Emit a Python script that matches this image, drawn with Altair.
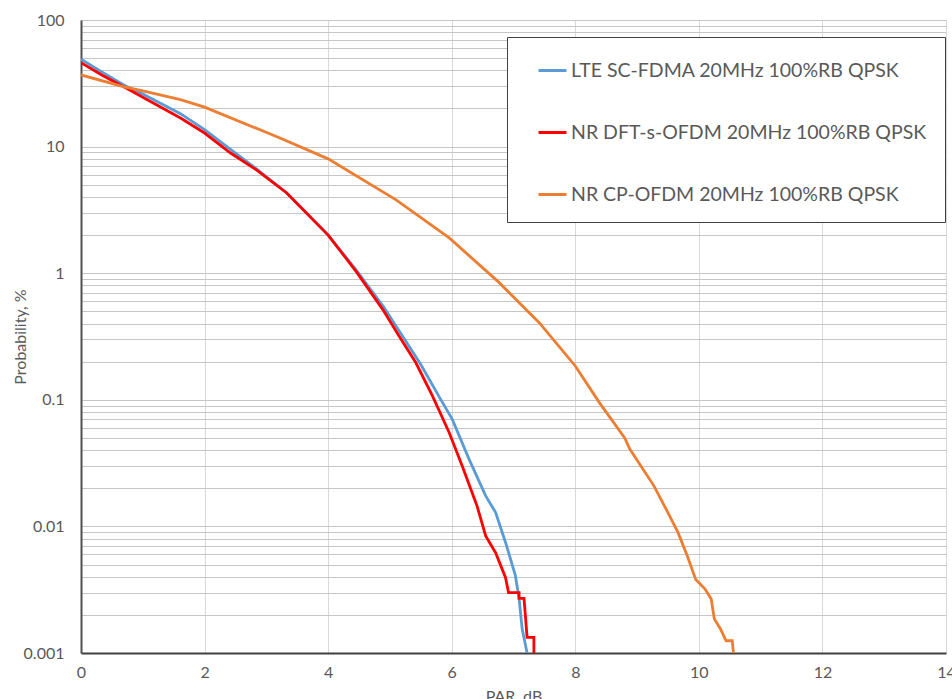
import altair as alt
import pandas as pd

series_names = [
    "LTE SC-FDMA 20MHz 100%RB QPSK",
    "NR DFT-s-OFDM 20MHz 100%RB QPSK",
    "NR CP-OFDM 20MHz 100%RB QPSK",
]
series_colors = ["#5B9BD5", "#FF0000", "#ED7D31"]

lte_x = [0, 0.35, 0.7, 1, 1.61, 2, 2.42, 2.85, 3.33, 4, 4.455, 4.9, 5.2, 5.5, 5.8, 6.01,
         6.28, 6.55, 6.71, 6.87, 7.03, 7.09, 7.14, 7.22]
lte_p = [49, 38.5, 30.5, 26, 18.2, 13.6, 9.5, 6.6, 4.3, 2.0, 1.06, 0.54, 0.32, 0.19, 0.105,
         0.07, 0.034, 0.0174, 0.0129, 0.0075, 0.0041, 0.0027, 0.00155, 0.001]

dft_x = [0, 0.35, 0.7, 1, 1.61, 2, 2.42, 2.85, 3.33, 4, 4.455, 4.885, 5.15, 5.42, 5.69,
         5.96, 6.17, 6.41, 6.55, 6.71, 6.87, 6.92, 7.09, 7.09, 7.17, 7.22, 7.33, 7.33]
dft_p = [46, 36.5, 29.6, 24.5, 16.8, 12.8, 8.9, 6.5, 4.3, 2.0, 1.03, 0.516, 0.318, 0.196,
         0.107, 0.055, 0.030, 0.0145, 0.0084, 0.0062, 0.00395, 0.003, 0.003, 0.0027,
         0.0027, 0.00133, 0.00133, 0.001]

cp_x = [0, 0.7, 1, 1.61, 2, 3.22, 4.0, 5.1, 5.96, 6.76, 7.42, 8.0, 8.39, 8.8, 8.88, 9.27,
        9.47, 9.66, 9.81, 9.95, 10.1, 10.2, 10.25, 10.35, 10.44, 10.54, 10.56]
cp_p = [36.8, 29.6, 27.5, 23.5, 20.5, 11.7, 8.0, 3.8, 1.9, 0.85, 0.405, 0.185, 0.095, 0.05,
        0.041, 0.021, 0.0137, 0.009, 0.0059, 0.0038, 0.0032, 0.00267, 0.00186, 0.00155,
        0.00125, 0.00125, 0.001]

x_ticks = [0, 2, 4, 6, 8, 10, 12, 14]
y_major = [0.001, 0.01, 0.1, 1, 10, 100]
y_grid = sorted(set([round(m * 10 ** k, 6) for k in range(-3, 2) for m in range(1, 10)] + [100]))

rows = []
for name, xs, ps in zip(series_names, [lte_x, dft_x, cp_x], [lte_p, dft_p, cp_p]):
    for i, (x, p) in enumerate(zip(xs, ps)):
        rows.append({"series": name, "par": x, "prob": p, "idx": i})
df = pd.DataFrame(rows)

FONT = "Lato"
TXT = "#595959"

x_enc = alt.X(
    "par:Q",
    scale=alt.Scale(domain=[0, 14], nice=False),
    axis=alt.Axis(
        values=x_ticks, title="PAR, dB", grid=True, gridColor="#d9d9d9", gridWidth=1,
        ticks=False, domainColor="#404040", domainWidth=2, labelFont=FONT, labelFontSize=16,
        labelColor=TXT, labelPadding=11, titleFont=FONT, titleFontSize=16, titleColor=TXT,
        titleFontWeight="normal", titleBaseline="top", titleY=35, labelFlush=False,
    ),
)
y_enc = alt.Y(
    "prob:Q",
    scale=alt.Scale(type="log", domain=[0.001, 100], nice=False),
    axis=alt.Axis(
        values=y_grid, title="Probability, %", grid=True, gridColor="#c6c6c6", gridWidth=1,
        ticks=False, domainColor="#505050", domainWidth=2, labelFont=FONT, labelFontSize=16,
        labelColor=TXT, labelPadding=17, labelFlush=False, labelOverlap=False,
        labelExpr="indexof([0.001,0.01,0.1,1,10,100], datum.value) >= 0 ? format(datum.value, '~g') : ''",
        titleFont=FONT, titleFontSize=16, titleColor=TXT, titleFontWeight="normal",
        titleX=-61, titleBaseline="middle", titleAlign="center",
    ),
)
color_enc = alt.Color(
    "series:N",
    scale=alt.Scale(domain=series_names, range=series_colors),
    legend=alt.Legend(
        orient="none", legendX=426, legendY=17, title=None, symbolType="stroke",
        symbolSize=784, symbolStrokeWidth=3, labelFontSize=19.5, labelFont=FONT,
        labelColor=TXT, rowPadding=37, padding=18, symbolOffset=12, labelOffset=3,
        strokeColor="#404040", fillColor="white", labelLimit=600,
    ),
)

base = alt.Chart(df).mark_line(strokeWidth=2.8, clip=True).encode(
    x=x_enc, y=y_enc, color=color_enc, order="idx:Q"
)

layers = [base.transform_filter(alt.datum.series == name) for name in series_names]

chart = alt.layer(*layers).properties(
    width=865, height=633,
    autosize=alt.AutoSizeParams(type="none"),
    padding={"left": 81, "top": 20, "right": 6, "bottom": 46},
    background="white",
).configure_view(stroke=None)

chart.save("out.html", embed_options={"renderer": "svg", "actions": False})
